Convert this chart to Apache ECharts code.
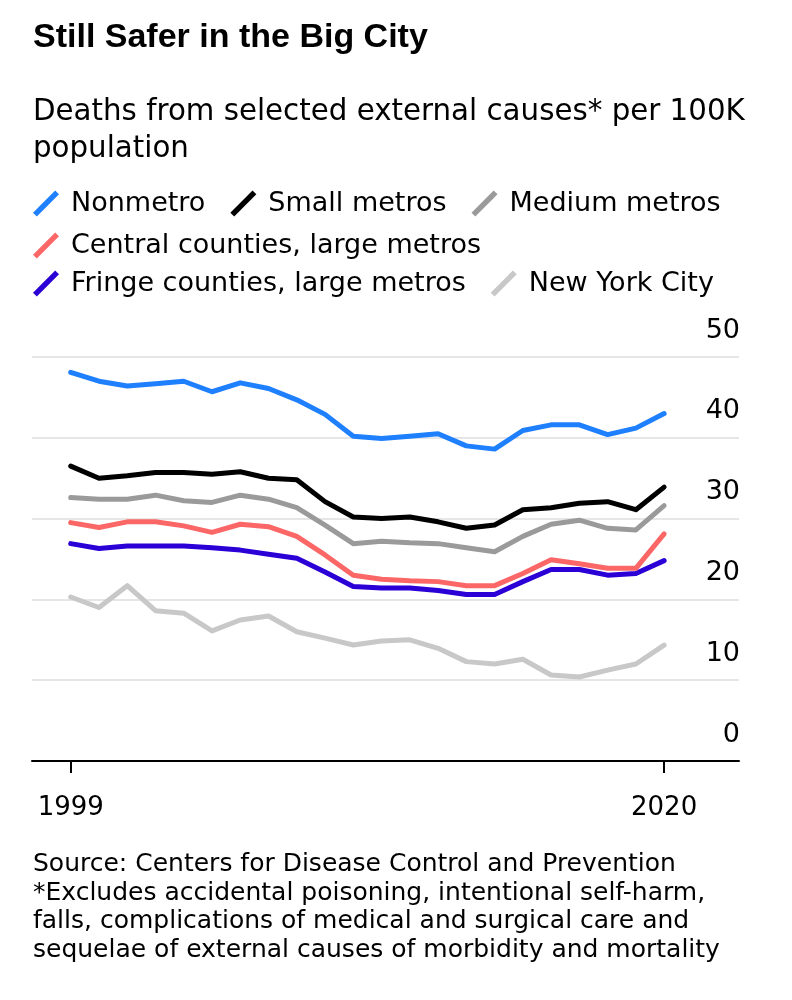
<!DOCTYPE html>
<html>
<head>
<meta charset="utf-8">
<script src="https://cdn.jsdelivr.net/npm/echarts@6/dist/echarts.min.js"></script>
<style>
html,body{margin:0;padding:0;background:#fff;}
#chart{width:792px;height:1000px;}
</style>
</head>
<body>
<div id="chart"></div>
<script>
const years = [1999,2000,2001,2002,2003,2004,2005,2006,2007,2008,2009,2010,2011,2012,2013,2014,2015,2016,2017,2018,2019,2020];
const nonmetro = [48.1,47.0,46.4,46.7,47.0,45.7,46.8,46.1,44.7,42.9,40.2,39.9,40.2,40.5,39.0,38.6,40.9,41.6,41.6,40.4,41.2,43.0];
const smallMetros = [36.5,35.0,35.3,35.7,35.7,35.5,35.8,35.0,34.8,32.1,30.2,30.0,30.2,29.6,28.8,29.2,31.1,31.35,31.9,32.1,31.1,33.9];
const mediumMetros = [32.6,32.4,32.4,32.9,32.2,32.0,32.9,32.4,31.35,29.2,26.9,27.2,27.0,26.9,26.4,25.9,27.8,29.3,29.8,28.8,28.6,31.6];
const centralCounties = [29.5,28.9,29.6,29.6,29.1,28.3,29.3,29.0,27.8,25.5,23.0,22.5,22.3,22.2,21.7,21.7,23.2,24.9,24.4,23.85,23.85,28.1];
const fringeCounties = [26.9,26.3,26.6,26.6,26.6,26.4,26.1,25.6,25.1,23.4,21.6,21.4,21.4,21.1,20.6,20.6,22.2,23.7,23.7,23.0,23.2,24.8];
const newYorkCity = [20.3,19.0,21.7,18.6,18.3,16.1,17.45,17.95,16.0,15.2,14.35,14.85,15.0,13.95,12.3,12.0,12.6,10.65,10.4,11.25,12.0,14.35];
const xTickYears = [1999, 2020];
const yTicks = [0,10,20,30,40,50];

const seriesDefs = [
  {name:'Nonmetro', data:nonmetro, color:'#1e7fff'},
  {name:'Small metros', data:smallMetros, color:'#000000'},
  {name:'Medium metros', data:mediumMetros, color:'#9a9a9a'},
  {name:'Central counties, large metros', data:centralCounties, color:'#fb6767'},
  {name:'Fringe counties, large metros', data:fringeCounties, color:'#2a00d6'},
  {name:'New York City', data:newYorkCity, color:'#c8c8c8'}
];

const FONT = 'DejaVu Sans';
const icon = 'path://M0.3,21.1 L21.1,0.3 L24.7,3.9 L3.9,24.7 Z';
function legendRow(names, top){
  return {
    data: names, top: top, left: 33, orient: 'horizontal', padding: 0,
    icon: icon, itemWidth: 26, itemHeight: 26, itemGap: 25,
    selectedMode: false,
    textStyle: {fontFamily: FONT, fontSize: 27, color: '#000', padding: [0,0,0,7]}
  };
}

const chart = echarts.init(document.getElementById('chart'), null, {renderer:'canvas'});
chart.setOption({
  animation: false,
  backgroundColor: '#fff',
  title: [
    {text: 'Still Safer in the Big City', left: 33, top: 21, padding: 0,
     textStyle: {fontFamily: 'Liberation Sans', fontWeight: 'bold', fontSize: 34, color: '#000'}},
    {text: 'Deaths from selected external causes* per 100K\npopulation', left: 33, top: 94, padding: 0,
     textStyle: {fontFamily: FONT, fontWeight: 'normal', fontSize: 29.3, lineHeight: 37, color: '#000'}},
    {text: 'Source: Centers for Disease Control and Prevention\n*Excludes accidental poisoning, intentional self-harm,\nfalls, complications of medical and surgical care and\nsequelae of external causes of morbidity and mortality',
     left: 33, top: 850, padding: 0,
     textStyle: {fontFamily: FONT, fontWeight: 'normal', fontSize: 25, lineHeight: 28.7, color: '#000'}}
  ],
  legend: [
    legendRow(['Nonmetro','Small metros','Medium metros'], 190),
    legendRow(['Central counties, large metros'], 232),
    legendRow(['Fringe counties, large metros','New York City'], 270)
  ],
  grid: {left: 32, right: 53, top: 357, bottom: 239, containLabel: false},
  xAxis: {
    type: 'value', min: 1997.63, max: 2022.65,
    splitLine: {show: false},
    axisLine: {show: true, lineStyle: {color: '#000', width: 2}},
    axisTick: {show: true, customValues: xTickYears, length: 12, lineStyle: {color: '#000', width: 2}},
    axisLabel: {customValues: xTickYears, fontFamily: FONT, fontSize: 26, color: '#000', margin: 34,
      formatter: v => String(v)}
  },
  yAxis: {
    type: 'value', position: 'right', min: 0, max: 50, interval: 10,
    axisLine: {show: false}, axisTick: {show: false},
    splitLine: {show: true, lineStyle: {color: '#e6e6e6', width: 2}},
    axisLabel: {inside: true, margin: -1, fontFamily: FONT, fontSize: 27, color: '#000',
      align: 'right', verticalAlign: 'bottom', lineHeight: 27, padding: [0,0,13,0]}
  },
  series: seriesDefs.map(s => ({
    name: s.name, type: 'line',
    data: years.map((y,i) => [y, s.data[i]]),
    showSymbol: false, symbol: 'none',
    lineStyle: {color: s.color, width: 5, cap: 'round', join: 'round'},
    itemStyle: {color: s.color},
    z: 2
  })).reverse()
});
</script>
</body>
</html>
